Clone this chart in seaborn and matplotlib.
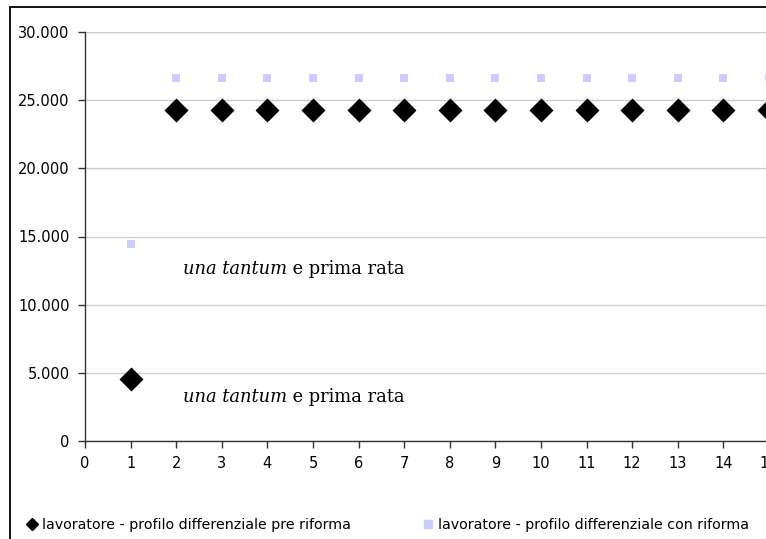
import matplotlib
matplotlib.use("Agg")
import matplotlib.pyplot as plt
from matplotlib.lines import Line2D
from matplotlib.patches import Rectangle
from matplotlib.ticker import FuncFormatter, MultipleLocator
import seaborn as sns
import pandas as pd

# Anni del profilo
anni = list(range(1, 16))
# Differenziale annuo, lavoratore
pre_riforma = [4550] + [24300] * 14
con_riforma = [14450] + [26600] * 14

serie_pre = "lavoratore - profilo differenziale pre riforma"
serie_con = "lavoratore - profilo differenziale con riforma"

df = pd.DataFrame({
    "anno": anni * 2,
    "valore": pre_riforma + con_riforma,
    "serie": [serie_pre] * len(anni) + [serie_con] * len(anni),
})

sns.set_theme(style="white")
plt.rcParams["font.family"] = ["DejaVu Sans"]
plt.rcParams["text.color"] = "black"
plt.rcParams["xtick.color"] = "black"
plt.rcParams["ytick.color"] = "black"

W, H = 766, 539
fig = plt.figure(figsize=(W / 100, H / 100), dpi=100)

# Cornice esterna del grafico
fig.add_artist(Rectangle((10 / W, -0.1), 1.2, 1 - 7 / H + 0.1,
                         transform=fig.transFigure, fill=False,
                         edgecolor="black", linewidth=1.3))

step = 45.6
ax = fig.add_axes([85 / W, 1 - 441 / H, 16 * step / W, (441 - 32) / H])

colori = {serie_pre: "black", serie_con: "#CCCCFF"}
marcatori = {serie_pre: "D", serie_con: "s"}
dimensioni = {serie_pre: 150, serie_con: 38}

for s in [serie_con, serie_pre]:
    sns.scatterplot(data=df[df["serie"] == s], x="anno", y="valore",
                    marker=marcatori[s], color=colori[s], s=dimensioni[s],
                    edgecolor=colori[s], linewidth=0, ax=ax, legend=False,
                    zorder=3)

ax.set_xlim(0, 16)
ax.set_ylim(0, 30000)
ax.xaxis.set_major_locator(MultipleLocator(1))
ax.yaxis.set_major_locator(MultipleLocator(5000))
ax.yaxis.set_major_formatter(FuncFormatter(lambda v, p: f"{int(v):,}".replace(",", ".")))
ax.set_xlabel("")
ax.set_ylabel("")

ax.grid(axis="y", color="#cccccc", linewidth=1)
ax.set_axisbelow(True)
for side in ["top", "right"]:
    ax.spines[side].set_visible(False)
for side in ["left", "bottom"]:
    ax.spines[side].set_color("#333333")
    ax.spines[side].set_linewidth(1)

ax.tick_params(axis="both", which="major", direction="out", length=5,
               width=1, color="#333333", labelsize=10.5, labelcolor="black",
               left=True, bottom=True)
ax.tick_params(axis="x", pad=6)
ax.tick_params(axis="y", pad=6)

# Annotazioni sulla prima annualità
for yv in [12600, 3200]:
    t1 = ax.text(2.15, yv, "una tantum", fontsize=12.9, family="DejaVu Serif",
                 style="italic", va="center", ha="left", color="black")
    ax.annotate(" e prima rata", xy=(1, 0.5), xycoords=t1, fontsize=12.9,
                family="DejaVu Serif", va="center", ha="left", color="black")

# Legenda in basso
handles = [
    Line2D([], [], marker="D", color="black", linestyle="none", markersize=6),
    Line2D([], [], marker="s", color="#CCCCFF", linestyle="none", markersize=6),
]
leg = fig.legend(handles, [serie_pre, serie_con], loc="center left",
                 bbox_to_anchor=(13 / W, 1 - 525 / H), ncol=2, frameon=False,
                 fontsize=10.3, handlelength=0.8, handletextpad=0.3,
                 columnspacing=5.0)
for t in leg.get_texts():
    t.set_color("black")

fig.savefig("out.png", dpi=100)
